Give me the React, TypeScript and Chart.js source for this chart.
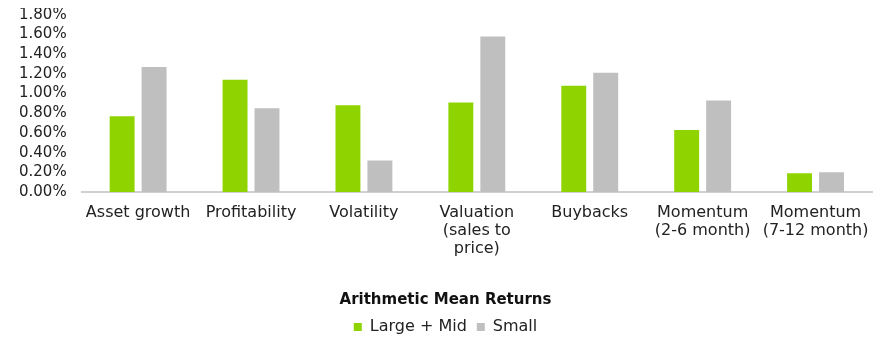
import React, { useEffect, useRef } from "react";
import { Chart, registerables } from "chart.js";

Chart.register(...registerables);

const categories: (string | string[])[] = [
  "Asset growth",
  "Profitability",
  "Volatility",
  ["Valuation", "(sales to", "price)"],
  "Buybacks",
  ["Momentum", "(2-6 month)"],
  ["Momentum", "(7-12 month)"],
];
const largeMid = [0.77, 1.14, 0.88, 0.91, 1.08, 0.63, 0.19];
const small = [1.27, 0.85, 0.32, 1.58, 1.21, 0.93, 0.2];
const seriesNames = ["Large + Mid", "Small"];
const chartTitle = "Arithmetic Mean Returns";
const yTickValues = [0, 0.2, 0.4, 0.6, 0.8, 1.0, 1.2, 1.4, 1.6, 1.8];

const FONT = "'DejaVu Sans', sans-serif";

export default function App() {
  const ref = useRef<HTMLCanvasElement | null>(null);
  useEffect(() => {
    if (!ref.current) return;
    const chart = new Chart(ref.current, {
      type: "bar",
      data: {
        labels: categories,
        datasets: [
          {
            label: seriesNames[0],
            data: largeMid,
            backgroundColor: "#8FD400",
            categoryPercentage: 0.566,
            barPercentage: 0.78,
          },
          {
            label: seriesNames[1],
            data: small,
            backgroundColor: "#BFBFBF",
            categoryPercentage: 0.566,
            barPercentage: 0.78,
          },
        ],
      },
      options: {
        animation: false,
        responsive: true,
        maintainAspectRatio: false,
        layout: { padding: { top: 0, right: 15, left: 11, bottom: 0 } },
        plugins: {
          tooltip: { enabled: false },
          title: {
            display: true,
            text: chartTitle,
            position: "bottom",
            color: "#111",
            font: { family: FONT, size: 15, weight: "bold" },
            padding: { top: 29, bottom: 0 },
            weight: 500,
          } as any,
          legend: {
            position: "bottom",
            labels: {
              color: "#222",
              font: { family: FONT, size: 16 },
              boxWidth: 8,
              boxHeight: 8,
              padding: 10,
            },
          },
        },
        scales: {
          x: {
            grid: { display: false },
            border: { display: true, color: "#D0D0D0", width: 2, dash: [2, 2] },
            ticks: {
              color: "#222",
              font: { family: FONT, size: 16, lineHeight: 1.125 },
              maxRotation: 0,
              autoSkip: false,
              padding: 4,
            },
          },
          y: {
            min: 0,
            max: 1.8,
            grid: { display: false, drawTicks: true, tickLength: 15 },
            border: { display: false },
            afterBuildTicks: (axis: any) => {
              axis.ticks = yTickValues.map((v) => ({ value: v }));
            },
            ticks: {
              autoSkip: false,
              color: "#222",
              font: { family: FONT, size: 15, lineHeight: 0.9 },
              padding: 0,
              callback: (v: any) => Number(v).toFixed(2) + "%",
            },
          },
        },
      },
    });
    return () => chart.destroy();
  }, []);
  return (
    <div style={{ width: 879, height: 337, position: "relative" }}>
      <canvas ref={ref} />
    </div>
  );
}
